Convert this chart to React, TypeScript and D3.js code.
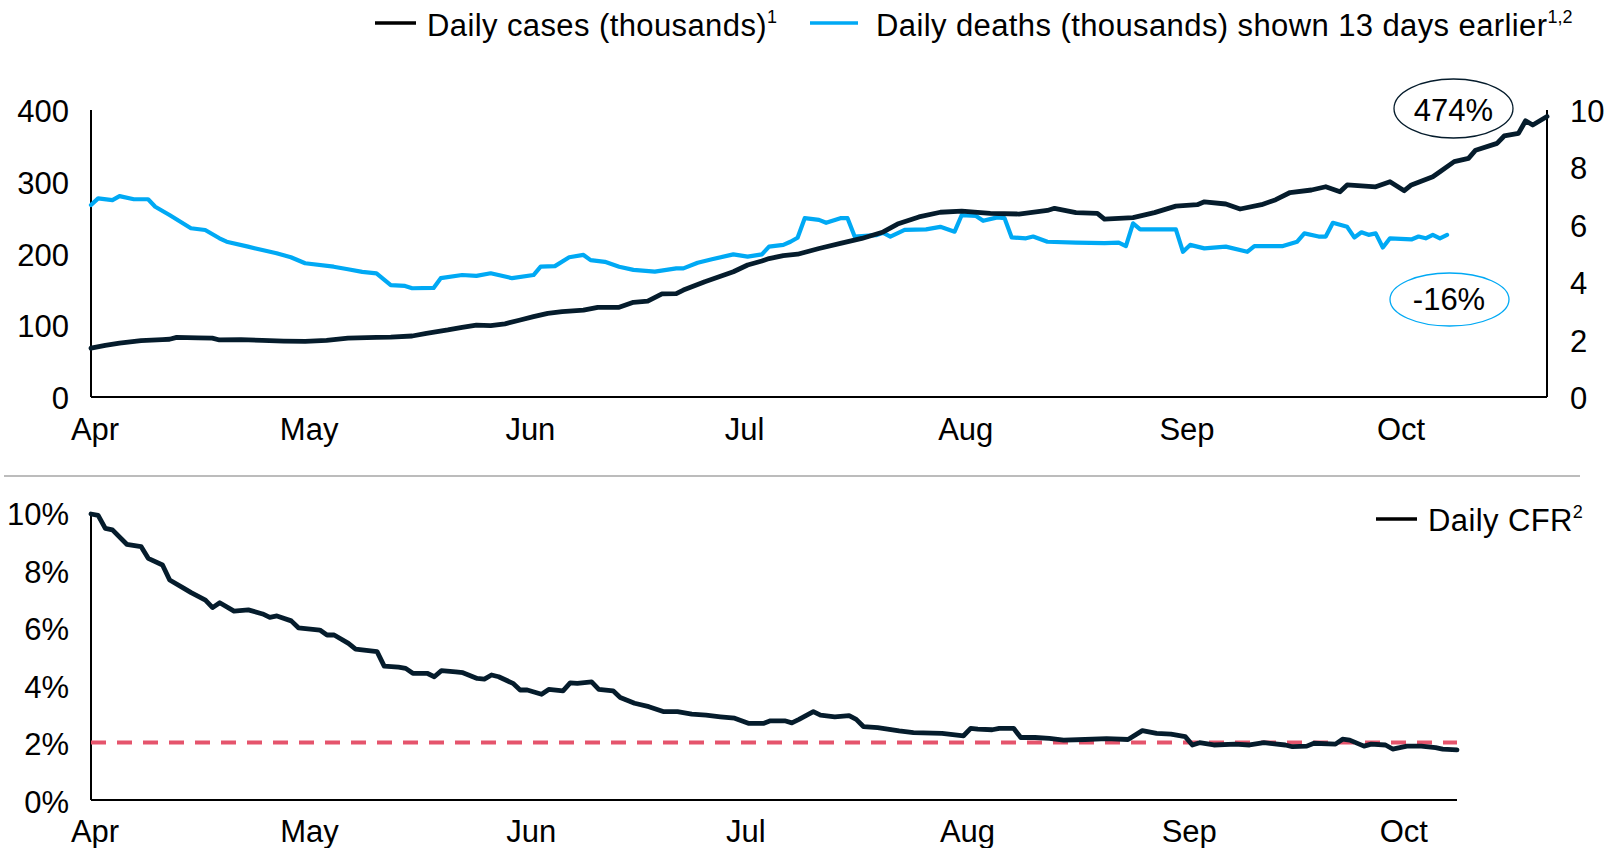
import React, { useEffect } from "react";
import * as d3 from "d3";

// ---------- DATA ----------
const caseDates = ["04-01","04-03","04-05","04-08","04-11","04-12","04-13","04-16","04-18","04-19","04-22","04-25","04-28","05-01","05-04","05-07","05-11","05-13","05-16","05-18","05-21","05-23","05-25","05-27","05-29","05-31","06-02","06-04","06-06","06-09","06-11","06-14","06-16","06-18","06-20","06-22","06-23","06-26","06-27","06-29","06-30","07-02","07-04","07-05","07-07","07-09","07-12","07-15","07-18","07-21","07-23","07-26","07-29","08-01","08-05","08-09","08-13","08-14","08-17","08-20","08-21","08-25","08-28","08-31","09-03","09-04","09-07","09-09","09-12","09-14","09-16","09-19","09-21","09-23","09-24","09-28","09-30","10-02","10-03","10-06","10-07","10-09","10-11","10-12","10-15","10-16","10-18","10-19","10-20","10-22"];
const caseValues = [68,72,75,78.5,80,80.5,83,82.5,82,79.5,80,79,78,77.5,79,82,83,83.5,85,88.8,93.4,97,100.3,99.5,102,107,112,116.6,119,121,125,125,132,133.5,143.6,144,149,160.7,164,171,174.6,184,189.5,193,197,199,207,214,221,230,241,251,257.5,259,256,255,260,263,257,256,248,250,257,266,268,272,269,262,268,275,285,288.5,293,286,295.5,293,300,287.5,295.5,307,314,328,332.6,344,353.5,363.8,367.5,385,379,391];

const deathDates = ["04-01","04-02","04-04","04-05","04-07","04-09","04-10","04-12","04-15","04-17","04-19","04-20","04-23","04-25","04-27","04-29","05-01","05-05","05-07","05-09","05-11","05-13","05-15","05-16","05-19","05-20","05-23","05-25","05-27","05-30","06-02","06-03","06-05","06-07","06-09","06-10","06-12","06-14","06-16","06-19","06-22","06-23","06-25","06-27","06-30","07-02","07-04","07-05","07-07","07-08","07-09","07-10","07-12","07-13","07-15","07-16","07-17","07-20","07-21","07-22","07-24","07-27","07-29","07-31","08-01","08-03","08-04","08-06","08-07","08-08","08-10","08-11","08-13","08-17","08-21","08-23","08-24","08-25","08-26","08-31","09-01","09-02","09-04","09-07","09-10","09-11","09-15","09-17","09-18","09-20","09-21","09-22","09-24","09-25","09-26","09-27","09-28","09-29","09-30","10-03","10-04","10-05","10-06","10-07","10-08"];
const deathValues = [6.69,6.92,6.86,7.0,6.89,6.89,6.63,6.34,5.88,5.82,5.53,5.41,5.24,5.12,5.01,4.87,4.66,4.54,4.45,4.36,4.31,3.9,3.87,3.79,3.8,4.14,4.25,4.22,4.31,4.14,4.25,4.54,4.56,4.87,4.95,4.77,4.71,4.54,4.43,4.37,4.48,4.48,4.68,4.8,4.97,4.89,4.97,5.24,5.3,5.41,5.55,6.23,6.17,6.07,6.23,6.23,5.59,5.64,5.72,5.59,5.82,5.84,5.93,5.76,6.34,6.31,6.14,6.26,6.23,5.56,5.53,5.59,5.41,5.38,5.36,5.38,5.26,6.05,5.84,5.84,5.06,5.3,5.18,5.24,5.06,5.26,5.26,5.41,5.7,5.59,5.59,6.07,5.93,5.56,5.74,5.65,5.7,5.21,5.53,5.49,5.59,5.53,5.65,5.53,5.65];

const cfrDates = ["04-01","04-02","04-03","04-04","04-06","04-08","04-09","04-11","04-12","04-14","04-15","04-17","04-18","04-19","04-21","04-23","04-25","04-26","04-27","04-29","04-30","05-03","05-04","05-05","05-07","05-08","05-11","05-12","05-14","05-15","05-16","05-18","05-19","05-20","05-22","05-23","05-25","05-26","05-27","05-28","05-30","05-31","06-01","06-03","06-04","06-06","06-07","06-08","06-10","06-11","06-13","06-14","06-16","06-18","06-20","06-22","06-24","06-26","06-28","06-30","07-02","07-04","07-05","07-07","07-08","07-09","07-11","07-12","07-14","07-16","07-17","07-18","07-20","07-23","07-25","07-29","08-01","08-02","08-03","08-05","08-06","08-08","08-09","08-11","08-13","08-15","08-18","08-21","08-24","08-26","08-28","08-30","09-01","09-02","09-03","09-05","09-08","09-10","09-12","09-15","09-16","09-18","09-19","09-22","09-23","09-24","09-26","09-27","09-29","09-30","10-02","10-04","10-06","10-07","10-09"];
const cfrValues = [9.93,9.88,9.43,9.38,8.88,8.8,8.39,8.16,7.64,7.35,7.2,6.94,6.68,6.85,6.56,6.6,6.46,6.34,6.39,6.22,5.98,5.9,5.73,5.73,5.44,5.24,5.15,4.65,4.61,4.57,4.4,4.4,4.28,4.49,4.45,4.42,4.22,4.2,4.34,4.28,4.05,3.82,3.82,3.67,3.84,3.79,4.07,4.05,4.1,3.84,3.79,3.56,3.36,3.24,3.07,3.07,2.98,2.95,2.89,2.84,2.66,2.66,2.75,2.75,2.68,2.8,3.07,2.95,2.89,2.93,2.8,2.55,2.51,2.4,2.34,2.31,2.23,2.49,2.46,2.44,2.49,2.49,2.17,2.17,2.14,2.08,2.1,2.13,2.1,2.41,2.31,2.29,2.2,1.91,1.99,1.91,1.94,1.91,1.99,1.91,1.85,1.87,1.97,1.94,2.11,2.08,1.87,1.94,1.91,1.77,1.87,1.87,1.82,1.77,1.74];

const monthTicks = ["04-01","05-01","06-01","07-01","08-01","09-01","10-01"];
const monthLabels = ["Apr","May","Jun","Jul","Aug","Sep","Oct"];
const leftTicks = [0, 100, 200, 300, 400];
const rightTicks = [0, 2, 4, 6, 8, 10];
const cfrTicks = [0, 2, 4, 6, 8, 10];
const cfrThreshold = 2;
const casesChangeLabel = "474%";
const deathsChangeLabel = "-16%";

// ---------- helpers ----------
const parse = d3.timeParse("%Y-%m-%d");
const toDate = (s: string) => parse("2020-" + s) as Date;

const NAVY = "#051c2c";
const BLUE = "#00a9f4";
const RED = "#e5546c";
const FONT = "'Liberation Sans', Arial, Helvetica, sans-serif";

export default function App() {
  useEffect(() => {
    document.body.style.margin = "0";
  }, []);

  const W = 1606;
  const H = 848;

  // top chart
  const xTop = d3.scaleTime().domain([toDate("04-01"), toDate("10-22")]).range([91, 1547]);
  const yLeft = d3.scaleLinear().domain([0, 400]).range([397, 110]);
  const yRight = d3.scaleLinear().domain([0, 10]).range([397, 110]);

  // bottom chart
  const xBot = d3.scaleTime().domain([toDate("04-01"), toDate("10-09")]).range([91, 1457]);
  const yCfr = d3.scaleLinear().domain([0, 10]).range([800, 512]);

  const cases = caseDates.map((d, i) => ({ d: toDate(d), v: caseValues[i] }));
  const deaths = deathDates.map((d, i) => ({ d: toDate(d), v: deathValues[i] }));
  const cfr = cfrDates.map((d, i) => ({ d: toDate(d), v: cfrValues[i] }));

  const casesLine = d3.line<{ d: Date; v: number }>().x((p) => xTop(p.d)).y((p) => yLeft(p.v));
  const deathsLine = d3.line<{ d: Date; v: number }>().x((p) => xTop(p.d)).y((p) => yRight(p.v));
  const cfrLine = d3.line<{ d: Date; v: number }>().x((p) => xBot(p.d)).y((p) => yCfr(p.v));

  const txt = { fontFamily: FONT, fontSize: 31, fill: "#000" } as const;
  const legTxt = { ...txt, letterSpacing: 0.4 } as const;

  return (
    <svg width={W} height={H} style={{ position: "absolute", left: 0, top: 0, background: "#fff" }}>
      {/* top legend */}
      <line x1={375} x2={416} y1={23} y2={23} stroke="#000" strokeWidth={3.5} />
      <text x={427} y={36} {...legTxt}>
        Daily cases (thousands)
        <tspan fontSize={18} dy={-13} letterSpacing={0}>1</tspan>
      </text>
      <line x1={810} x2={858} y1={23} y2={23} stroke={BLUE} strokeWidth={3.5} />
      <text x={876} y={36} {...legTxt}>
        Daily deaths (thousands) shown 13 days earlier
        <tspan fontSize={18} dy={-13} letterSpacing={0}>1,2</tspan>
      </text>

      {/* top axes */}
      <line x1={xTop.range()[0]} x2={xTop.range()[0]} y1={yLeft(400)} y2={yLeft(0)} stroke="#000" strokeWidth={2} />
      <line x1={xTop.range()[1]} x2={xTop.range()[1]} y1={yRight(10)} y2={yRight(0)} stroke="#000" strokeWidth={2} />
      <line x1={xTop.range()[0]} x2={xTop.range()[1]} y1={yLeft(0)} y2={yLeft(0)} stroke="#000" strokeWidth={2} />
      {leftTicks.map((t) => (
        <text key={"l" + t} x={69} y={yLeft(t) + 12} textAnchor="end" {...txt}>{t}</text>
      ))}
      {rightTicks.map((t) => (
        <text key={"r" + t} x={1570} y={yRight(t) + 12} textAnchor="start" {...txt}>{t}</text>
      ))}
      {monthTicks.map((m, i) => (
        <text key={"mt" + m} x={xTop(toDate(m)) + 4} y={440} textAnchor="middle" {...txt}>{monthLabels[i]}</text>
      ))}

      {/* top lines */}
      <path d={deathsLine(deaths) || ""} fill="none" stroke={BLUE} strokeWidth={4.2} strokeLinejoin="round" strokeLinecap="round" />
      <path d={casesLine(cases) || ""} fill="none" stroke={NAVY} strokeWidth={4.8} strokeLinejoin="round" strokeLinecap="round" />

      {/* annotations */}
      <ellipse cx={1453.5} cy={108.5} rx={59.5} ry={29.5} fill="none" stroke={NAVY} strokeWidth={1.3} />
      <text x={1453.5} y={121} textAnchor="middle" {...txt}>{casesChangeLabel}</text>
      <ellipse cx={1449.5} cy={299.5} rx={59.5} ry={26.5} fill="none" stroke={BLUE} strokeWidth={1.3} />
      <text x={1449} y={310} textAnchor="middle" {...txt}>{deathsChangeLabel}</text>

      {/* separator */}
      <line x1={4} x2={1580} y1={476} y2={476} stroke="#a6a6a6" strokeWidth={1.5} />

      {/* bottom legend */}
      <line x1={1376} x2={1417} y1={519} y2={519} stroke="#000" strokeWidth={3.5} />
      <text x={1428} y={531} {...legTxt}>
        Daily CFR
        <tspan fontSize={18} dy={-13} letterSpacing={0}>2</tspan>
      </text>

      {/* bottom axes */}
      <line x1={xBot.range()[0]} x2={xBot.range()[0]} y1={yCfr(10)} y2={yCfr(0)} stroke="#000" strokeWidth={2} />
      <line x1={xBot.range()[0]} x2={xBot.range()[1]} y1={yCfr(0)} y2={yCfr(0)} stroke="#000" strokeWidth={2} />
      {cfrTicks.map((t) => (
        <text key={"c" + t} x={69} y={yCfr(t) + 13} textAnchor="end" {...txt}>{t + "%"}</text>
      ))}
      {monthTicks.map((m, i) => (
        <text key={"mb" + m} x={xBot(toDate(m)) + 4} y={842} textAnchor="middle" {...txt}>{monthLabels[i]}</text>
      ))}

      {/* threshold */}
      <line x1={xBot.range()[0]} x2={xBot.range()[1]} y1={yCfr(cfrThreshold)} y2={yCfr(cfrThreshold)} stroke={RED} strokeWidth={4} strokeDasharray="15 11" />

      {/* CFR line */}
      <path d={cfrLine(cfr) || ""} fill="none" stroke={NAVY} strokeWidth={4.8} strokeLinejoin="round" strokeLinecap="round" />
    </svg>
  );
}
